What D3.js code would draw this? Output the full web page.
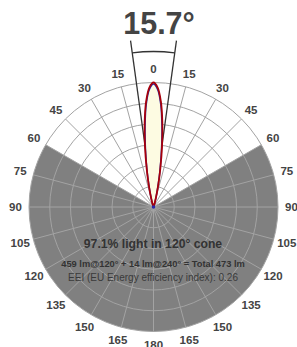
<!DOCTYPE html>
<html><head><meta charset="utf-8">
<script src="https://cdn.jsdelivr.net/npm/d3@7"></script>
<style>body{margin:0;background:#fff}svg{display:block}</style>
</head><body>
<svg id="c" width="297" height="347"></svg>
<script>
// ---- data ----
const beamAngle = 15.7;           // degrees (full width at half max)
const coneAngle = 120;            // degrees
const angleLabels = [0,15,30,45,60,75,90,105,120,135,150,165,180];
const ringValues = [1/6,2/6,3/6,4/6,5/6,1];
const lobeAngles = [0,2,4,6,8,10,12,14,16,18,20,25,30,40,60,90];
const planeC0 =  [1.00,0.96,0.85,0.68,0.49,0.32,0.19,0.10,0.05,0.02,0.01,0.003,0,0,0,0];
const planeC90 = [0.987,0.945,0.83,0.65,0.46,0.30,0.175,0.09,0.045,0.02,0.01,0.003,0,0,0,0];
const titleText = "15.7°";
const infoLines = ["97.1% light in 120° cone",
  "459 lm@120° + 14 lm@240° = Total 473 lm",
  "EEI (EU Energy efficiency index): 0.26"];

// ---- chart ----
const svg = d3.select("#c");
const cx = 153.5, cy = 207, R = 124.5;
const g = svg.append("g").attr("transform", `translate(${cx},${cy})`);
const r = d3.scaleLinear().domain([0,1]).range([0,R]);
const rad = d => d*Math.PI/180;

// white disc
g.append("circle").attr("r", R).attr("fill", "#fff");
// gray sector outside the cone
g.append("path")
  .attr("d", d3.arc()({innerRadius:0, outerRadius:R,
    startAngle: rad(coneAngle/2), endAngle: rad(360 - coneAngle/2)}))
  .attr("fill", "#808080");

const gridCol = "#a3a3a3";
// rings
g.selectAll("circle.ring").data(ringValues).join("circle")
  .attr("class","ring").attr("r", d=>r(d))
  .attr("fill","none").attr("stroke", gridCol).attr("stroke-width",1);
// spokes
const spokes = d3.range(0,360,15);
g.selectAll("line.spoke").data(spokes).join("line")
  .attr("class","spoke")
  .attr("x1",0).attr("y1",0)
  .attr("x2", d=>R*Math.sin(rad(d))).attr("y2", d=>-R*Math.cos(rad(d)))
  .attr("stroke", gridCol).attr("stroke-width",1);

// beam angle lines + arc
const half = beamAngle/2, beamLen = 168, arcR = 155.5;
[-half, half].forEach(a=>{
  g.append("line").attr("x1",0).attr("y1",0)
    .attr("x2", beamLen*Math.sin(rad(a))).attr("y2", -beamLen*Math.cos(rad(a)))
    .attr("stroke","#333").attr("stroke-width",1.3);
});
g.append("path")
  .attr("d", d3.arc()({innerRadius:arcR, outerRadius:arcR, startAngle:rad(-half), endAngle:rad(half)}))
  .attr("fill","none").attr("stroke","#333").attr("stroke-width",1.3);

// lobes
function lobePoints(vals){
  const right = lobeAngles.map((a,i)=>[rad(a), r(vals[i])]);
  const left = lobeAngles.map((a,i)=>[rad(-a), r(vals[i])]).reverse();
  return left.concat(right.slice(1));
}
const radial = d3.lineRadial().curve(d3.curveCatmullRomClosed.alpha(0.5));
g.append("path").attr("d", radial(lobePoints(planeC0)))
  .attr("fill","#fdfbe2").attr("stroke","none");
g.append("path").attr("d", radial(lobePoints(planeC90)))
  .attr("fill","none").attr("stroke","#2a2aa8").attr("stroke-width",1.5);
g.append("path").attr("d", radial(lobePoints(planeC0)))
  .attr("fill","none").attr("stroke","#a8000a").attr("stroke-width",1.8);
g.append("circle").attr("r",1.8).attr("fill","#2a2aa8");

// angle labels
const labR = 138;
const labs = [];
angleLabels.forEach(a=>{
  labs.push({a, side:1});
  if (a!==0 && a!==180) labs.push({a, side:-1});
});
g.selectAll("text.lab").data(labs).join("text")
  .attr("class","lab")
  .attr("x", d=>d.side*labR*Math.sin(rad(d.a)))
  .attr("y", d=>-labR*Math.cos(rad(d.a)))
  .attr("dy","0.36em")
  .attr("text-anchor","middle")
  .attr("font-family","Liberation Sans, Arial, sans-serif")
  .attr("font-weight","bold").attr("font-size",11.5)
  .attr("fill","#444").text(d=>d.a);

// title
svg.append("text").attr("x",159).attr("y",34)
  .attr("text-anchor","middle")
  .attr("font-family","Liberation Sans, Arial, sans-serif")
  .attr("font-weight","bold").attr("font-size",30.5)
  .attr("fill","#444").text(titleText);

// info text
const tf = "Liberation Sans, Arial, sans-serif";
svg.append("text").attr("x",153).attr("y",248).attr("text-anchor","middle")
  .attr("font-family",tf).attr("font-weight","bold").attr("font-size",12.2)
  .attr("fill","#333").text(infoLines[0]);
svg.append("text").attr("x",153).attr("y",266.5).attr("text-anchor","middle")
  .attr("font-family",tf).attr("font-weight","bold").attr("font-size",9.3)
  .attr("fill","#333").text(infoLines[1]);
svg.append("text").attr("x",153).attr("y",280.5).attr("text-anchor","middle")
  .attr("font-family",tf).attr("font-size",10)
  .attr("fill","#3a3a3a").text(infoLines[2]);
</script>
</body></html>
